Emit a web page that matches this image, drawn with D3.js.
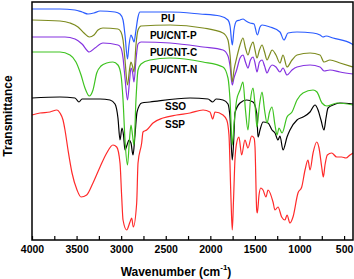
<!DOCTYPE html>
<head>
<meta charset="utf-8">
<title>FTIR spectra</title>
<style>
body { margin: 0; background: #fff; }
svg { display: block; font-family: "Liberation Sans", Arial, sans-serif; font-weight: bold; }
.spec { fill: none; stroke-width: 1.2; stroke-linejoin: round; }
.frame { fill: none; stroke: #000; stroke-width: 1.5; }
.lbl { font-size: 10px; }
</style>
</head>
<body>
<script src="https://d3js.org/d3.v7.min.js"></script>
<script>

// spectra: [wavenumber (cm-1), transmittance (a.u., offset)]
var pu = [[4000,231],[3686,231],[3518,230],[3439,228],[3372,226],[3305,227],[3237,229],[3069,228],
  [3013,226],[2979,220],[2957,205],[2929,181],[2912,195],[2890,205],[2873,202],[2856,198],[2834,210],
  [2811,223],[2789,228],[2452,228],[2116,226],[1892,224],[1802,220],[1779,214],[1754,195],[1735,210],
  [1705,219],[1667,220],[1634,221],[1600,219],[1555,217],[1510,216],[1473,205],[1443,213],[1420,215],
  [1331,213],[1219,208],[1174,200],[1129,207],[1028,208],[848,207],[770,205],[736,203],[703,204],
  [624,202],[411,196],[400,195]];

var cntP = [[4000,220],[3686,219],[3574,217],[3484,213],[3417,207],[3357,203],[3305,205],[3260,210],
  [3204,212],[3036,211],[3002,208],[2979,200],[2957,180],[2929,155],[2907,170],[2890,178],[2873,174],
  [2856,168],[2834,195],[2811,210],[2777,214],[2452,215],[2082,212],[1858,207],[1802,200],[1779,185],
  [1754,158],[1735,170],[1705,182],[1667,195],[1634,202],[1606,192],[1578,185],[1550,193],[1521,198],
  [1499,190],[1477,182],[1449,190],[1420,195],[1392,188],[1364,180],[1336,185],[1308,190],[1264,185],
  [1219,177],[1185,185],[1140,173],[1084,180],[1028,185],[882,187],[770,185],[725,178],[658,180],
  [546,177],[400,173]];

var cntC = [[4000,203],[3630,203],[3518,201],[3439,196],[3357,188],[3294,192],[3204,197],[3036,195],
  [3002,192],[2979,182],[2957,162],[2929,140],[2907,158],[2890,172],[2873,168],[2856,158],[2834,180],
  [2811,196],[2777,198],[2452,197],[2082,193],[1858,190],[1802,184],[1779,174],[1754,155],[1735,162],
  [1705,170],[1667,182],[1634,185],[1606,178],[1578,172],[1550,180],[1521,183],[1499,177],[1477,168],
  [1449,178],[1420,180],[1392,174],[1364,167],[1336,172],[1308,175],[1264,173],[1219,168],[1185,172],
  [1140,165],[1084,170],[1028,173],[882,175],[770,173],[725,169],[658,170],[546,168],[400,166]];

var cntN = [[4000,188],[3686,188],[3574,185],[3507,178],[3450,165],[3406,152],[3357,144],[3316,150],
  [3274,167],[3226,174],[3162,177],[3092,178],[3036,175],[3002,165],[2979,140],[2957,100],[2929,75],
  [2907,100],[2890,115],[2873,105],[2856,95],[2834,140],[2811,170],[2777,176],[2677,180],[2452,182],
  [2082,178],[1858,173],[1802,162],[1779,140],[1754,95],[1735,115],[1705,140],[1667,150],[1634,158],
  [1606,130],[1578,110],[1550,140],[1521,152],[1499,135],[1477,113],[1449,135],[1420,148],[1392,130],
  [1364,117],[1336,128],[1308,133],[1275,115],[1252,105],[1230,112],[1196,107],[1140,123],[1084,128],
  [1028,140],[961,147],[848,150],[804,148],[748,137],[692,134],[579,137],[400,135]];

var sso = [[4000,142],[3686,143],[3518,142],[3473,138],[3439,141],[3237,141],[3125,140],[3069,136],
  [3036,122],[3013,100],[2991,112],[2974,105],[2957,90],[2934,95],[2912,100],[2890,97],[2867,85],
  [2845,105],[2822,128],[2770,137],[2677,138],[2228,142],[2026,141],[1973,138],[1936,141],[1858,140],
  [1802,136],[1779,122],[1754,80],[1735,105],[1724,127],[1667,137],[1593,140],[1521,138],[1480,127],
  [1465,103],[1443,110],[1409,118],[1353,117],[1308,110],[1275,107],[1241,100],[1219,104],[1185,90],
  [1140,103],[1107,110],[1028,120],[961,123],[882,128],[826,135],[792,130],[759,120],[725,110],
  [703,122],[680,132],[624,135],[546,137],[400,136]];

var ssp = [[4000,125],[3910,127],[3798,128],[3720,130],[3686,127],[3652,120],[3630,110],[3596,90],
  [3551,67],[3495,50],[3450,43],[3387,45],[3316,57],[3237,73],[3162,87],[3092,95],[3050,93],[3013,77],
  [2994,43],[2979,20],[2938,10],[2901,18],[2882,22],[2864,13],[2826,37],[2811,77],[2770,97],[2755,108],
  [2714,110],[2643,117],[2531,122],[2377,125],[2228,127],[2082,130],[2004,128],[1973,121],[1948,128],
  [1858,125],[1816,120],[1791,105],[1768,40],[1754,10],[1740,40],[1724,80],[1705,97],[1679,103],
  [1649,85],[1612,100],[1578,92],[1536,104],[1510,102],[1499,93],[1480,30],[1473,27],[1454,45],
  [1435,52],[1409,50],[1376,43],[1353,50],[1297,38],[1275,30],[1241,33],[1200,23],[1163,20],[1140,25],
  [1107,17],[1073,23],[1017,47],[975,53],[938,70],[905,80],[882,70],[848,87],[807,98],[781,92],
  [751,73],[733,63],[714,75],[688,85],[639,87],[583,83],[527,83],[479,82],[434,85],[400,87]];

var names  = ["SSP", "SSO", "PU/CNT-N", "PU/CNT-C", "PU/CNT-P", "PU"];
var spectra = [ssp, sso, cntN, cntC, cntP, pu];
var colors = ["#ff2a2a", "#000000", "#3ec320", "#8533e0", "#7d8b1f", "#2b5cff"];

var xTicks = d3.range(500, 4001, 250);

// layout
var W = 354, H = 279;
var margin = {top: 2, right: 1, bottom: 39, left: 32};
var width = W - margin.left - margin.right,
    height = H - margin.top - margin.bottom;

var x = d3.scaleLinear().domain([4000, 400]).range([0, width]);
var y = d3.scaleLinear().domain([0, 238]).range([height, 0]);

var svg = d3.select("body").append("svg")
    .attr("width", W)
    .attr("height", H);
var g = svg.append("g")
    .attr("transform", "translate(" + margin.left + "," + margin.top + ")");

var line = d3.line()
    .x(function(d) { return x(d[0]); })
    .y(function(d) { return y(d[1]); })
    .curve(d3.curveMonotoneX);

g.selectAll(".spec")
    .data(spectra)
  .enter().append("path")
    .attr("class", "spec")
    .attr("stroke", function(d, i) { return colors[i]; })
    .attr("d", line);

// curve labels (text start, baseline) in data units
var labelPos = {"PU": [2553, 218], "PU/CNT-P": [2677, 201], "PU/CNT-C": [2677, 184],
                "PU/CNT-N": [2677, 167], "SSO": [2508, 130], "SSP": [2508, 112]};
g.selectAll(".lbl")
    .data(names)
  .enter().append("text")
    .attr("class", "lbl")
    .attr("x", function(d) { return x(labelPos[d][0]); })
    .attr("y", function(d) { return y(labelPos[d][1]); })
    .text(function(d) { return d; });

// x axis, ticks pointing inwards
var xAxis = g.append("g")
    .attr("transform", "translate(0," + height + ")")
    .call(d3.axisBottom(x)
      .tickValues(xTicks)
      .tickSizeInner(-4)
      .tickSizeOuter(0)
      .tickPadding(6)
      .tickFormat(function(d) { return d % 500 === 0 ? d : ""; }));
xAxis.select(".domain").remove();
xAxis.selectAll("line").attr("stroke-width", 1.2);
xAxis.selectAll("text")
    .style("font-family", "Liberation Sans, Arial, sans-serif")
    .style("font-weight", "bold")
    .style("font-size", "10.5px");

// frame
g.append("rect")
    .attr("class", "frame")
    .attr("width", width)
    .attr("height", height);

// axis titles
var xt = svg.append("text")
    .attr("x", 176)
    .attr("y", 276)
    .attr("text-anchor", "middle")
    .style("font-size", "12px");
xt.append("tspan").text("Wavenumber (cm");
xt.append("tspan").attr("dy", -6).style("font-size", "8px").text("-1");
xt.append("tspan").attr("dy", 6).text(")");

svg.append("text")
    .attr("transform", "translate(11.5,116)rotate(-90)")
    .attr("text-anchor", "middle")
    .style("font-size", "12px")
    .text("Transmittance");

</script>
</body>
</html>
